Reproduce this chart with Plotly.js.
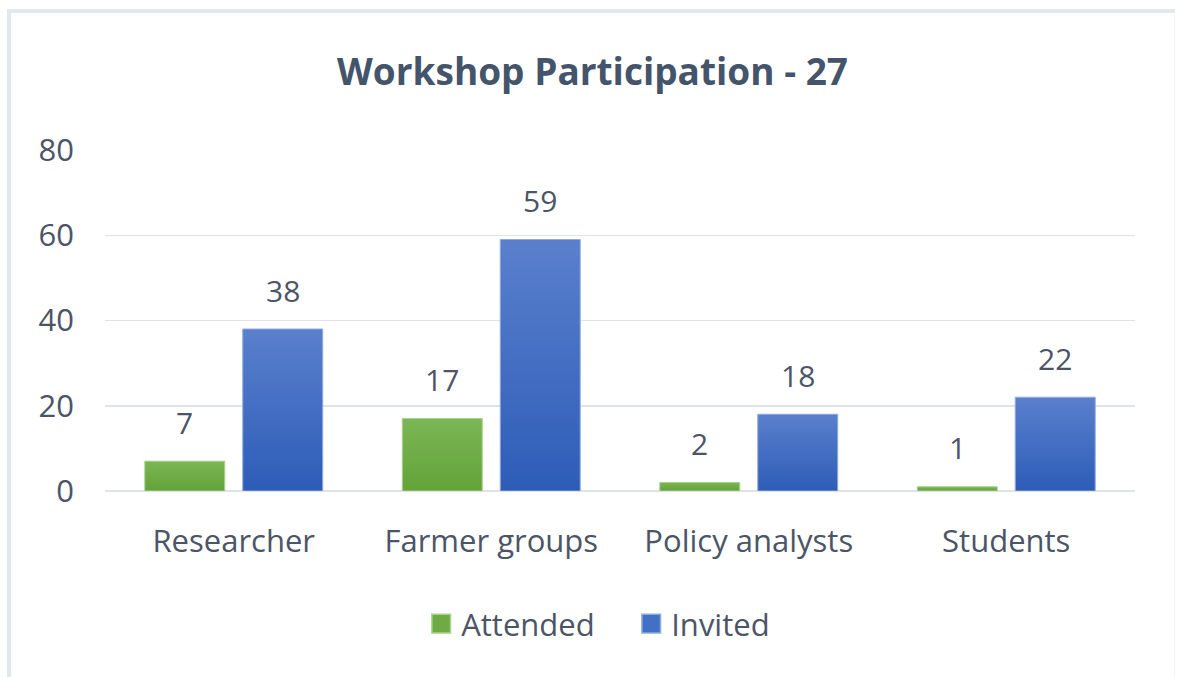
<!DOCTYPE html>
<html>
<head>
<meta charset="utf-8">
<script src="https://cdn.plot.ly/plotly-3.0.1.min.js"></script>
<style>
  html, body { margin: 0; padding: 0; background: #ffffff; }
  #wrap { position: relative; width: 1178px; height: 677px; }
  #chart { width: 1178px; height: 677px; }
  #frame { position: absolute; left: 7px; top: 9px; right: 3px; bottom: -4px;
           border-left: 4px solid #e3e8ef; border-top: 4px solid #e3e8ef;
           border-right: 1px solid #f0f2f5; pointer-events: none; }
</style>
</head>
<body>
<div id="wrap">
  <div id="chart"></div>
  <div id="frame"></div>
</div>
<script>
const chartTitle = "Workshop Participation - 27";
const categories = ["Researcher", "Farmer groups", "Policy analysts", "Students"];
const seriesNames = ["Attended", "Invited"];
const attended = [7, 17, 2, 1];
const invited = [38, 59, 18, 22];
const yTicks = [0, 20, 40, 60, 80];

const textColor = "#4b5567";
const font = "Open Sans, Noto Sans, sans-serif";

const traces = [
  { type: "bar", name: seriesNames[0], x: categories, y: attended,
    marker: { color: "#6eab45", line: { color: "#a9d18e", width: 1 } }, hoverinfo: "none" },
  { type: "bar", name: seriesNames[1], x: categories, y: invited,
    marker: { color: "#4270c4", line: { color: "#8eaadf", width: 1 } }, hoverinfo: "none" }
];

const annotations = [];
[attended, invited].forEach((vals, si) => {
  vals.forEach((v, i) => {
    annotations.push({
      x: categories[i], y: v, xref: "x", yref: "y",
      text: String(v), showarrow: false,
      xshift: si === 0 ? -49 : 49, yshift: 39, yanchor: "middle",
      font: { family: font, size: 30, color: textColor }
    });
  });
});

const layout = {
  width: 1178, height: 677,
  margin: { l: 105, r: 43, t: 150, b: 186 },
  paper_bgcolor: "#ffffff", plot_bgcolor: "#ffffff",
  title: { text: chartTitle, x: 0.503, xanchor: "center", y: 0.893, yanchor: "middle",
           font: { family: font, size: 37, weight: 700, color: "#44546a" } },
  barmode: "group", bargap: 0.239, bargroupgap: 0.184,
  xaxis: { type: "category", showgrid: false, zeroline: false, showline: false, ticks: "",
           ticklabelstandoff: 29,
           tickfont: { family: font, size: 31, color: textColor } },
  yaxis: { range: [0, 80], tickvals: yTicks, ticktext: yTicks.map(String),
           showgrid: true, gridcolor: "#dfe3e8", gridwidth: 1.5,
           zeroline: true, zerolinecolor: "#dfe3e8", zerolinewidth: 1.5,
           showline: false, ticks: "", ticklabelstandoff: 30,
           tickfont: { family: font, size: 31, color: textColor } },
  showlegend: true,
  legend: { orientation: "h", x: 0.307, xanchor: "left", y: -0.39, yanchor: "middle",
            entrywidth: 165, entrywidthmode: "pixels",
            font: { family: font, size: 31, color: textColor }, itemclick: false, itemdoubleclick: false },
  annotations: annotations
};

Plotly.newPlot("chart", traces, layout, { displayModeBar: false, staticPlot: true }).then(() => {
  const svg = document.querySelector("#chart .main-svg");
  const ns = "http://www.w3.org/2000/svg";
  let defs = svg.querySelector("defs");
  if (!defs) { defs = document.createElementNS(ns, "defs"); svg.insertBefore(defs, svg.firstChild); }
  const grads = [["gradG", "#7bb655", "#63a338"], ["gradB", "#5a80cd", "#2d5cb7"]];
  grads.forEach(([id, c1, c2]) => {
    const g = document.createElementNS(ns, "linearGradient");
    g.setAttribute("id", id); g.setAttribute("x1", "0"); g.setAttribute("y1", "0");
    g.setAttribute("x2", "0"); g.setAttribute("y2", "1");
    [[0, c1], [1, c2]].forEach(([o, c]) => {
      const s = document.createElementNS(ns, "stop");
      s.setAttribute("offset", o); s.setAttribute("stop-color", c);
      g.appendChild(s);
    });
    defs.appendChild(g);
  });
  const traceGroups = document.querySelectorAll("#chart .barlayer .trace");
  traceGroups.forEach((tg, i) => {
    tg.querySelectorAll("path").forEach(p => { p.style.fill = "url(#" + grads[i][0] + ")"; });
  });
  // enlarge legend swatches (keep any existing transform, then scale about the centre)
  document.querySelectorAll("#chart .legend .legendpoints path").forEach(p => {
    const t = p.getAttribute("transform") || "";
    p.setAttribute("transform", (t + " scale(1.55)").trim());
  });
});
</script>
</body>
</html>
